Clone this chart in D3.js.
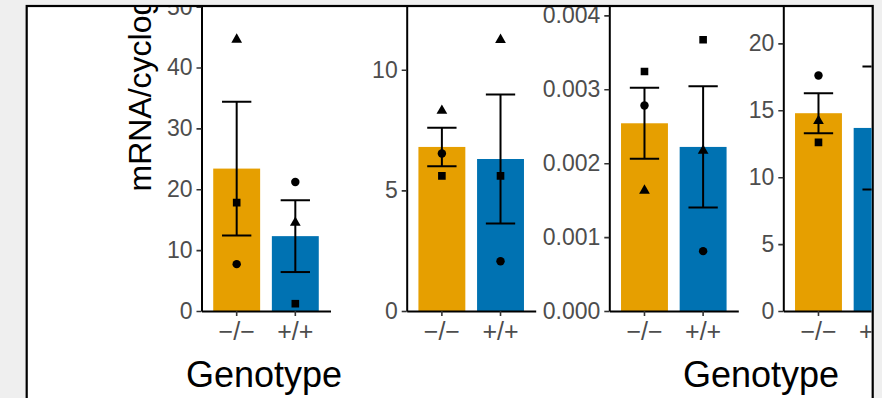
<!DOCTYPE html>
<html>
<head>
<meta charset="utf-8">
<script src="https://cdn.jsdelivr.net/npm/d3@7"></script>
<style>
  body { margin: 0; background: #efefef; }
  text { font-family: "Liberation Sans", Arial, Helvetica, sans-serif; }
</style>
</head>
<body>
<svg id="chart" width="882" height="398"></svg>
<script>
// ---------------- data ----------------
const genotypes = ["\u2212/\u2212", "+/+"];

const meanP1 = [23.4, 12.3];
const seP1 = [11.0, 5.9];
const circleP1 = [7.7, 21.2];
const squareP1 = [17.8, 1.2];
const triangleP1 = [44.6, 14.5];
const ticksP1 = [0, 10, 20, 30, 40, 50];

const meanP2 = [6.8, 6.3];
const seP2 = [0.8, 2.67];
const circleP2 = [6.53, 2.06];
const squareP2 = [5.6, 5.6];
const triangleP2 = [8.3, 11.24];
const ticksP2 = [0, 5, 10];

const meanP3 = [0.00254, 0.00222];
const seP3 = [0.00048, 0.00082];
const circleP3 = [0.00278, 0.00081];
const squareP3 = [0.00324, 0.00367];
const triangleP3 = [0.00163, 0.00217];
const ticksP3 = [0, 0.001, 0.002, 0.003, 0.004];

const meanP4 = [14.78, 13.68];
const seP4 = [1.49, 4.6];
const circleP4 = [17.6, null];   // +/+ replicates lie outside the cropped frame
const squareP4 = [12.6, null];
const triangleP4 = [14.2, null];
const ticksP4 = [0, 5, 10, 15, 20];

const yTitle = "mRNA/cyclog";
const xTitle = "Genotype";

// ---------------- layout ----------------
const W = 882, H = 398;
const baseY = 311;
const panelW = 129;
const colors = ["#E69F00", "#0072B2"];

const panels = [
  { mean: meanP1, se: seP1, circle: circleP1, square: squareP1, triangle: triangleP1, ticks: ticksP1, fmt: d3.format("d"), axisX: 201.5, yMax: 51.1 },
  { mean: meanP2, se: seP2, circle: circleP2, square: squareP2, triangle: triangleP2, ticks: ticksP2, fmt: d3.format("d"), axisX: 406.7, yMax: 12.89 },
  { mean: meanP3, se: seP3, circle: circleP3, square: squareP3, triangle: triangleP3, ticks: ticksP3, fmt: d3.format(".3f"), axisX: 609.3, yMax: 0.004208 },
  { mean: meanP4, se: seP4, circle: circleP4, square: squareP4, triangle: triangleP4, ticks: ticksP4, fmt: d3.format("d"), axisX: 783.3, yMax: 23.24 }
];

const svg = d3.select("#chart");
svg.append("rect").attr("width", W).attr("height", H).attr("fill", "#efefef");

svg.append("defs").append("clipPath").attr("id", "frameClip")
  .append("rect").attr("x", 27.8).attr("y", 7.1).attr("width", 843.8).attr("height", 420);

svg.append("rect")
  .attr("x", 26.7).attr("y", 6).attr("width", 846).attr("height", 430)
  .attr("fill", "#fff").attr("stroke", "#000").attr("stroke-width", 2.2);

const root = svg.append("g").attr("clip-path", "url(#frameClip)");

const shapes = [
  { key: "circle", sym: d3.symbolCircle, size: 56 },
  { key: "square", sym: d3.symbolSquare, size: 58 },
  { key: "triangle", sym: d3.symbolTriangle, size: 50 }
];

panels.forEach(p => {
  const g = root.append("g");
  const x = d3.scaleBand().domain(genotypes)
    .range([p.axisX, p.axisX + panelW]).paddingInner(0.2).paddingOuter(0.2);
  const y = d3.scaleLinear().domain([0, p.yMax]).range([baseY, 0]);
  const cx = d => x(d) + x.bandwidth() / 2;
  const capHalf = x.step() * 0.25;

  // bars
  g.selectAll("rect.bar").data(genotypes).enter().append("rect")
    .attr("class", "bar")
    .attr("x", d => x(d))
    .attr("width", x.bandwidth())
    .attr("y", (d, i) => y(p.mean[i]))
    .attr("height", (d, i) => y(0) - y(p.mean[i]))
    .attr("fill", (d, i) => colors[i]);

  // error bars
  const eb = g.selectAll("g.eb").data(genotypes).enter().append("g").attr("class", "eb")
    .attr("stroke", "#000").attr("stroke-width", 2).attr("fill", "none");
  eb.append("line")
    .attr("x1", d => cx(d)).attr("x2", d => cx(d))
    .attr("y1", (d, i) => y(p.mean[i] + p.se[i]))
    .attr("y2", (d, i) => y(p.mean[i] - p.se[i]));
  eb.append("line")
    .attr("x1", d => cx(d) - capHalf).attr("x2", d => cx(d) + capHalf)
    .attr("y1", (d, i) => y(p.mean[i] + p.se[i]))
    .attr("y2", (d, i) => y(p.mean[i] + p.se[i]));
  eb.append("line")
    .attr("x1", d => cx(d) - capHalf).attr("x2", d => cx(d) + capHalf)
    .attr("y1", (d, i) => y(p.mean[i] - p.se[i]))
    .attr("y2", (d, i) => y(p.mean[i] - p.se[i]));

  // replicate points
  shapes.forEach(s => {
    const vals = p[s.key];
    const pts = genotypes.map((d, i) => ({ d, v: vals[i] })).filter(o => o.v !== null);
    g.selectAll("path.pt-" + s.key).data(pts).enter().append("path")
      .attr("class", "pt-" + s.key)
      .attr("d", d3.symbol().type(s.sym).size(s.size))
      .attr("transform", o => `translate(${cx(o.d)},${y(o.v)})`)
      .attr("fill", "#000");
  });

  // y axis
  const ya = g.append("g").attr("transform", `translate(${p.axisX},0)`)
    .call(d3.axisLeft(y).tickValues(p.ticks).tickFormat(p.fmt).tickSize(5).tickPadding(4).tickSizeOuter(0));
  ya.select(".domain").attr("stroke", "#000").attr("stroke-width", 2);
  ya.selectAll(".tick line").attr("stroke", "#333").attr("stroke-width", 1.6);
  ya.selectAll(".tick text").attr("fill", "#4d4d4d").style("font-size", "23px")
    .style("font-family", "'Liberation Sans', Arial, sans-serif");

  // x axis
  const xa = g.append("g").attr("transform", `translate(0,${baseY})`)
    .call(d3.axisBottom(x).tickSize(5).tickPadding(6).tickSizeOuter(0));
  xa.select(".domain").attr("stroke", "#000").attr("stroke-width", 2);
  xa.selectAll(".tick line").attr("stroke", "#333").attr("stroke-width", 1.6);
  xa.selectAll(".tick text").attr("fill", "#4d4d4d").style("font-size", "25px")
    .style("font-family", "'Liberation Sans', Arial, sans-serif");
});

// axis titles
root.append("text")
  .attr("transform", "translate(151,191.5) rotate(-90)")
  .attr("text-anchor", "start")
  .style("font-size", "32px")
  .attr("fill", "#000")
  .text(yTitle);

[264, 761].forEach(cxT => {
  root.append("text")
    .attr("x", cxT).attr("y", 387)
    .attr("text-anchor", "middle")
    .style("font-size", "36px")
    .attr("fill", "#000")
    .text(xTitle);
});
</script>
</body>
</html>
